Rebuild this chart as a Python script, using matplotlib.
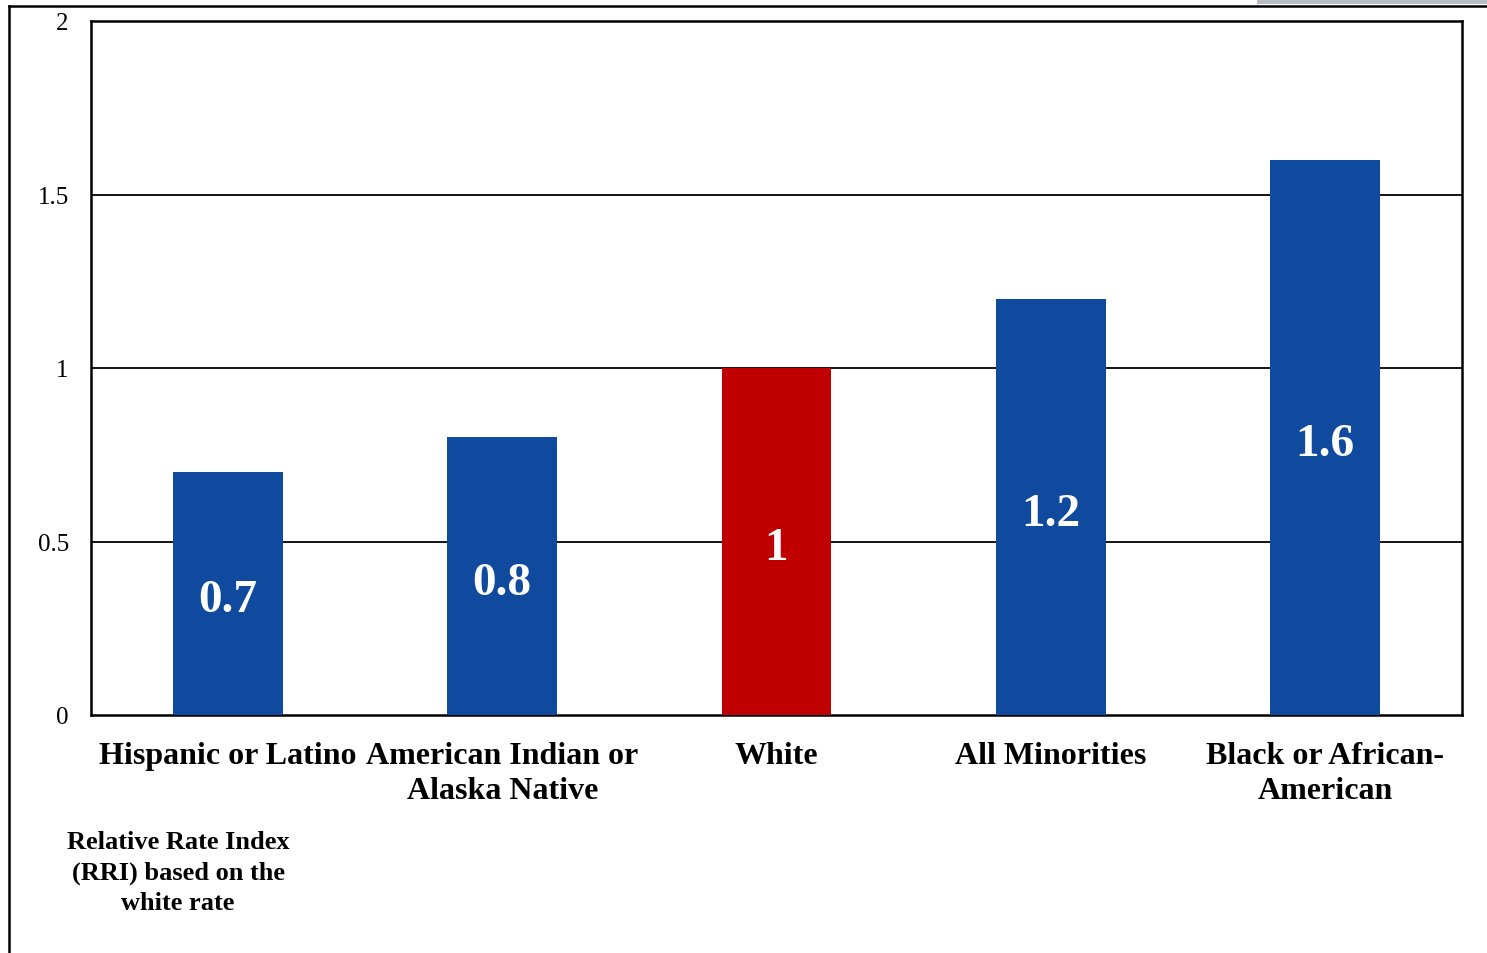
import matplotlib.pyplot as plt
import matplotlib as mpl
from matplotlib.patches import Rectangle
from matplotlib.lines import Line2D

mpl.rcParams['font.family'] = ['Liberation Serif', 'DejaVu Serif']

# Data
categories = ['Hispanic or Latino', 'American Indian or\nAlaska Native', 'White',
              'All Minorities', 'Black or African-\nAmerican']
rri = [0.7, 0.8, 1.0, 1.2, 1.6]
value_labels = ['0.7', '0.8', '1', '1.2', '1.6']
bar_colors = ['#0f4a9e', '#0f4a9e', '#c00000', '#0f4a9e', '#0f4a9e']
y_ticks = [0, 0.5, 1, 1.5, 2]
y_tick_labels = ['0', '0.5', '1', '1.5', '2']

W, H = 1487, 954
fig = plt.figure(figsize=(W / 100, H / 100), dpi=100)
ax = fig.add_axes([91 / W, 1 - 716 / H, (1462 - 91) / W, (716 - 22) / H])

x = list(range(len(categories)))
ax.bar(x, rri, width=0.4, color=bar_colors, zorder=3)

# value labels in the middle of each bar
for xi, v, lab in zip(x, rri, value_labels):
    ax.annotate(lab, (xi, v / 2), xytext=(0, -5), textcoords='offset points',
                ha='center', va='center', color='white',
                fontsize=34, fontweight='bold', zorder=4)

ax.set_xlim(-0.5, 4.5)
ax.set_ylim(0, 2)
ax.set_yticks(y_ticks)
ax.set_yticklabels(y_tick_labels, fontsize=18)
ax.set_xticks(x)
ax.set_xticklabels(categories, fontsize=23, fontweight='bold', linespacing=1.24)
ax.tick_params(axis='both', length=0)
ax.tick_params(axis='y', pad=16)
ax.tick_params(axis='x', pad=19)

for y in [0.5, 1, 1.5]:
    ax.axhline(y, color='black', linewidth=1.3, zorder=1)

for s in ax.spines.values():
    s.set_linewidth(1.8)
    s.set_color('black')

fig.text(178 / W, 1 - 873 / H, 'Relative Rate Index\n(RRI) based on the\nwhite rate',
         ha='center', va='center', fontsize=19, fontweight='bold', linespacing=1.4)

# outer frame bits
fig.add_artist(Line2D([9 / W, 1], [1 - 7 / H, 1 - 7 / H], color='black', linewidth=1.8,
                      transform=fig.transFigure))
fig.add_artist(Line2D([9 / W, 9 / W], [0, 1 - 7 / H], color='black', linewidth=1.8,
                      transform=fig.transFigure))
fig.add_artist(Rectangle((1257 / W, 1 - 5 / H), (W - 1257) / W, 5 / H,
                         color='#b8bbbf', transform=fig.transFigure, linewidth=0))

fig.savefig('out.png', dpi=100)
